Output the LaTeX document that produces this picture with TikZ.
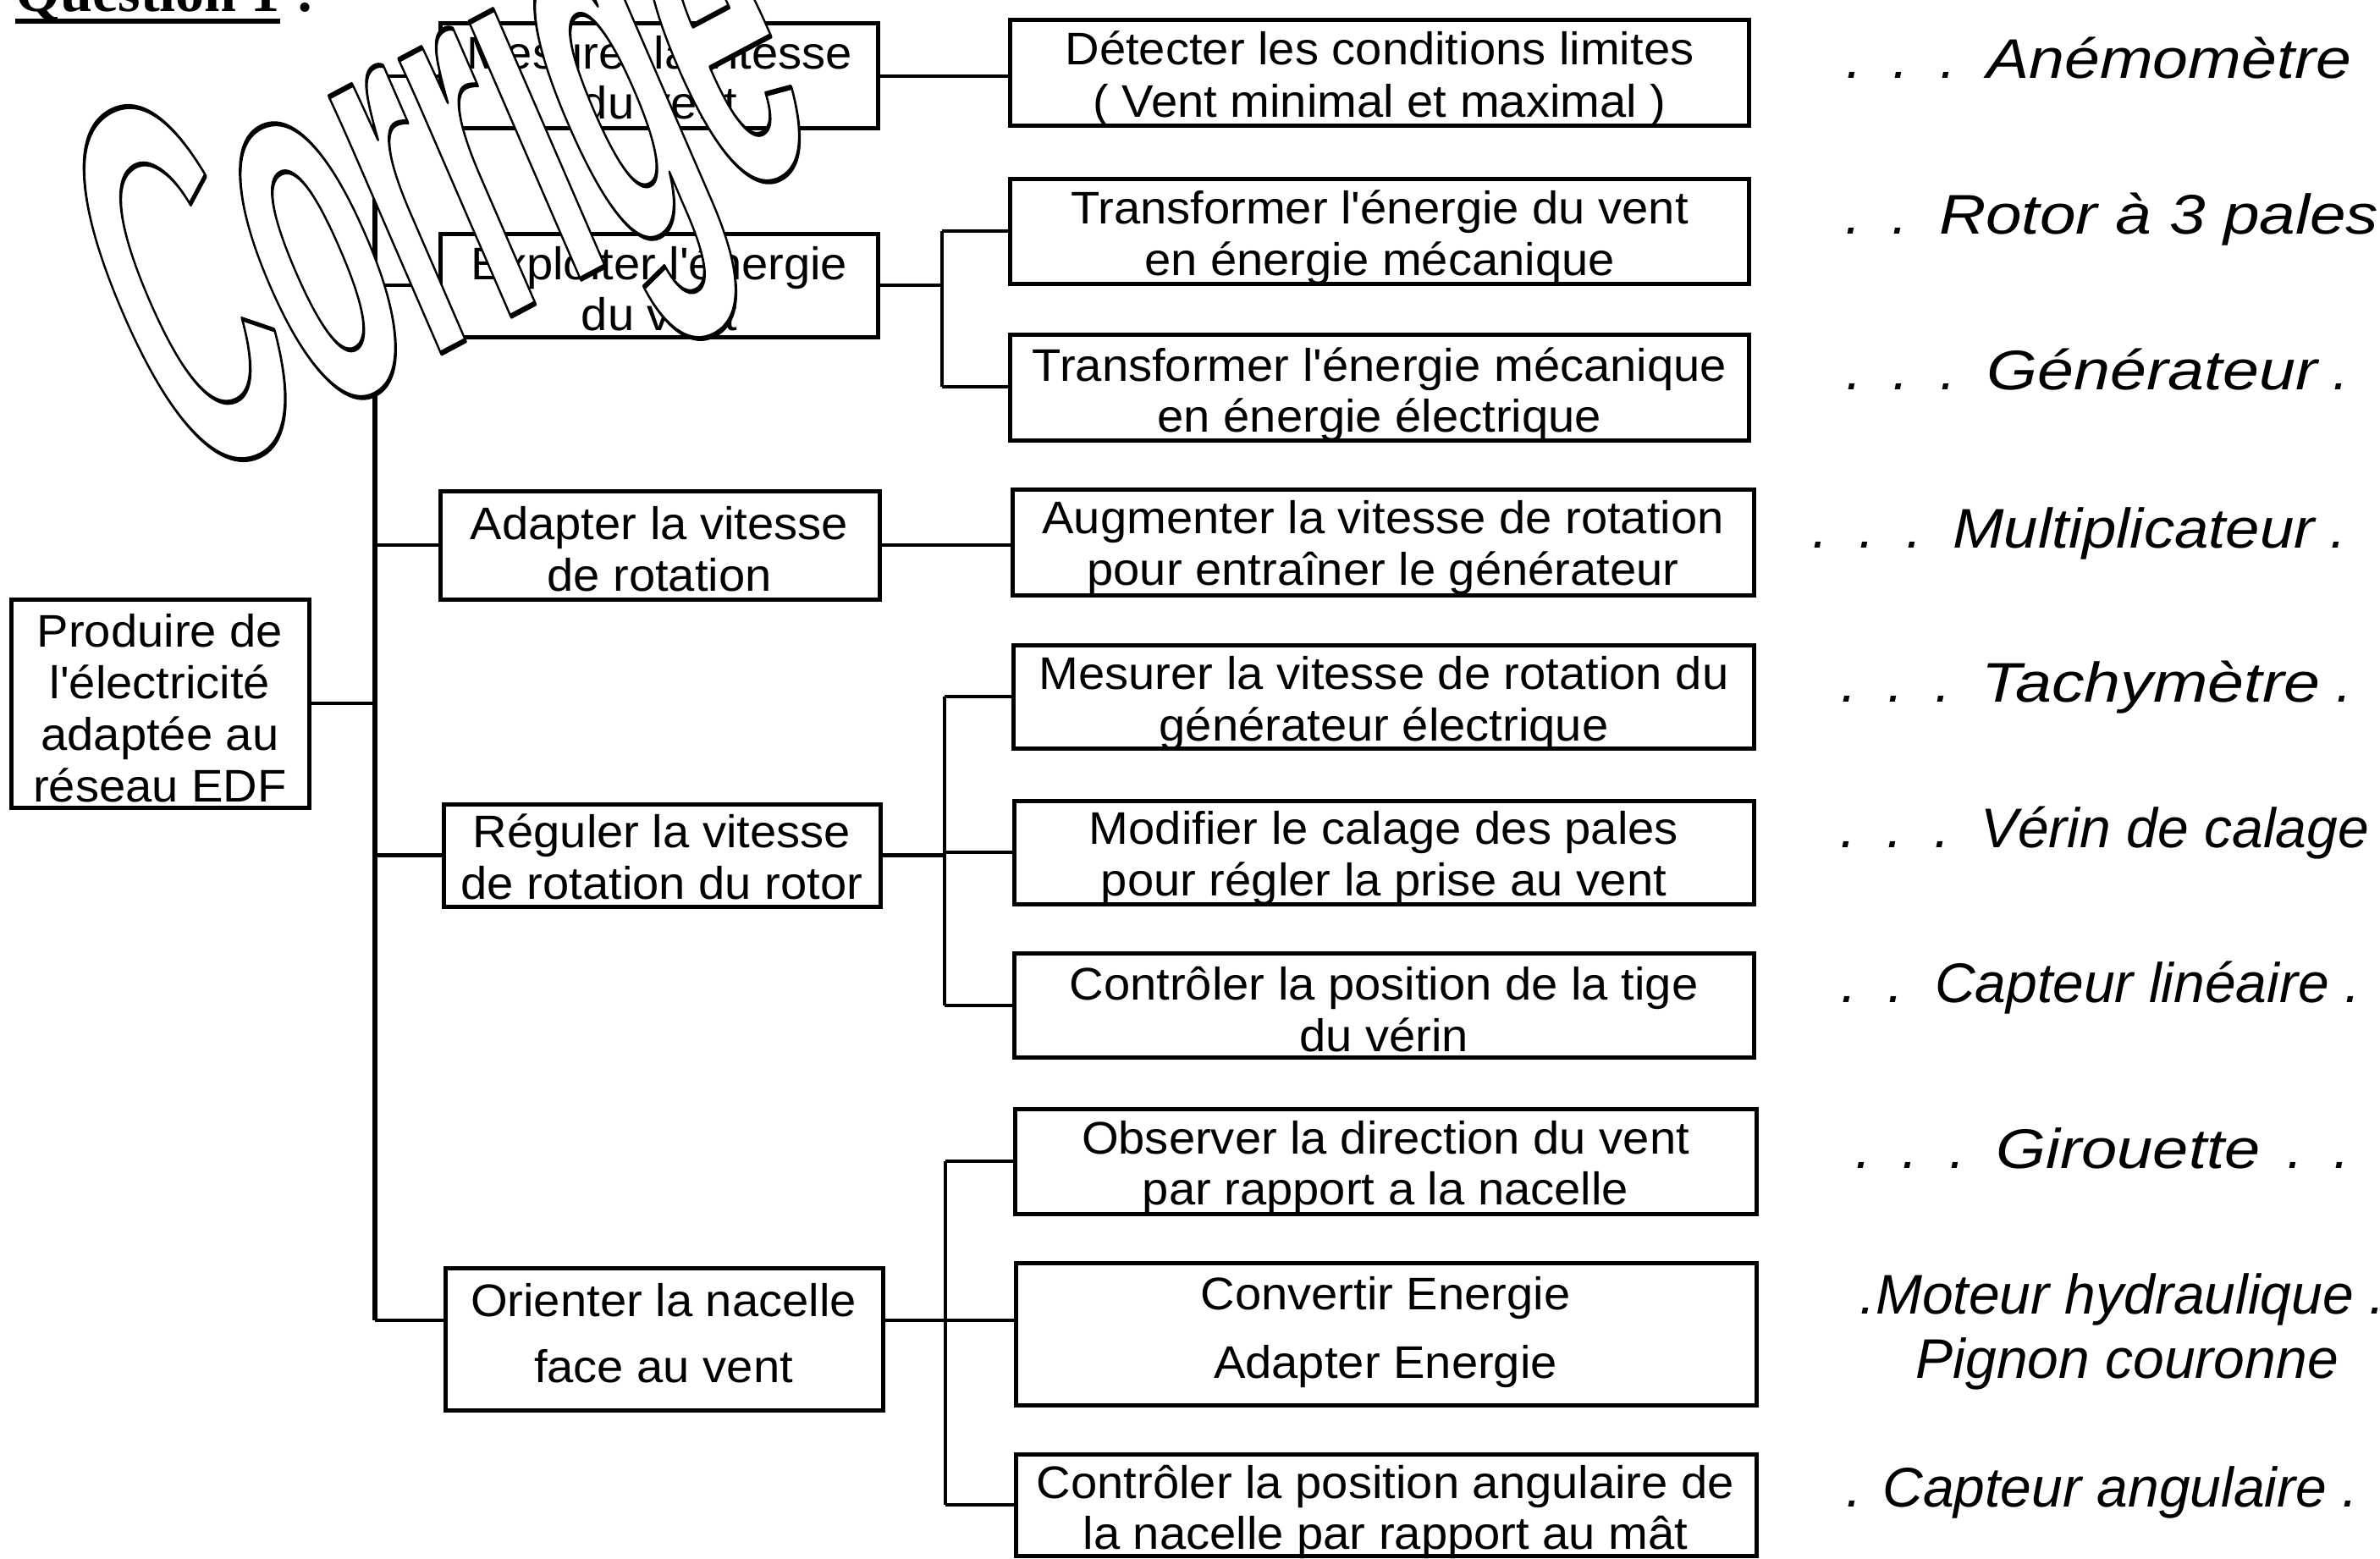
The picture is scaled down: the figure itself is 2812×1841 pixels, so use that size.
\documentclass[tikz,border=0pt]{standalone}
\usepackage{fontspec}
\usepackage{graphicx}
\usetikzlibrary{fit}
\setmainfont{Liberation Sans}
\newfontfamily\boxfont{Liberation Sans}[FakeStretch=1.04]
\newfontfamily\labfont{Liberation Sans}
\newfontfamily\wmfont{Liberation Sans}
\newfontfamily\titlefont{Liberation Serif}
\newcommand\ld{.\hspace{9.2pt}}
\newcommand\outl[1]{\special{pdf:literal direct 0 0 0 RG 1 1 1 rg 0.6 w 1 j 2 Tr}#1\special{pdf:literal direct 0 Tr 0 0 0 rg}}
\begin{document}
\begin{tikzpicture}[x=0.25pt,y=-0.25pt,
  box/.style={draw, line width=1.25pt, inner sep=0pt},
  bt/.style={anchor=base, inner sep=0pt, font=\boxfont\fontsize{13.5pt}{15pt}\selectfont},
  lab/.style={anchor=base west, inner sep=0pt, font=\labfont\itshape\fontsize{16.5pt}{19pt}\selectfont},
  conn/.style={line width=1.2pt},
  trunkline/.style={line width=1.6pt}]
\fill[white] (0,0) rectangle (2812,1841);
\useasboundingbox (0,0) rectangle (2812,1841);

% title
\node[anchor=base west, inner sep=0pt, font=\titlefont\bfseries\fontsize{17pt}{20pt}\selectfont] (qt) at (18,14) {Question 1};
\node[anchor=base west, inner sep=0pt, font=\titlefont\bfseries\fontsize{17pt}{20pt}\selectfont] (qc) at ([xshift=4.25pt]qt.base east) {:};
\draw[line width=1.5pt] ([yshift=-2.75pt]qt.base west) -- ([yshift=-2.75pt]qt.base east);

% root
\node[box, fit={(13,708) (365,954)}] (r) {};
\node[bt] (r1) at (189,764) {Produire de};
\node[bt] (r2) at (189,825) {l'électricité};
\node[bt] (r3) at (189,886) {adaptée au};
\node[bt] (r4) at (189,947) {réseau EDF};

% level 2
\node[box, fit={(520,28) (1037,152)}] (b1) {};
\node[bt] (b1a) at (779,82) {Mesurer la vitesse};
\node[bt] (b1b) at (779,141) {du vent};
\node[box, fit={(520,276) (1037,398)}] (b2) {};
\node[bt] (b2a) at (779,330) {Exploiter l'énergie};
\node[bt] (b2b) at (779,390) {du vent};
\node[box, fit={(520,580) (1039,708)}] (b3) {};
\node[bt] (b3a) at (779,637) {Adapter la vitesse};
\node[bt] (b3b) at (779,698) {de rotation};
\node[box, fit={(524,950) (1040,1071)}] (b4) {};
\node[bt] (b4a) at (782,1001) {Réguler la vitesse};
\node[bt] (b4b) at (782,1062) {de rotation du rotor};
\node[box, fit={(526,1498) (1043,1666)}] (b5) {};
\node[bt] (b5a) at (784,1555) {Orienter la nacelle};
\node[bt] (b5b) at (784,1633) {face au vent};

% level 3
\node[box, fit={(1193,24) (2066,149)}] (c1) {};
\node[bt] (c1a) at (1630,77) {Détecter les conditions limites};
\node[bt] (c1b) at (1630,138) {( Vent minimal et maximal )};
\node[box, fit={(1193,212) (2066,335)}] (c2) {};
\node[bt] (c2a) at (1630,265) {Transformer l'énergie du vent};
\node[bt] (c2b) at (1630,325) {en énergie mécanique};
\node[box, fit={(1193,395) (2066,520)}] (c3) {};
\node[bt] (c3a) at (1630,450) {Transformer l'énergie mécanique};
\node[bt] (c3b) at (1630,510) {en énergie électrique};
\node[box, fit={(1196,578) (2072,703)}] (c4) {};
\node[bt] (c4a) at (1634,630) {Augmenter la vitesse de rotation};
\node[bt] (c4b) at (1634,691) {pour entraîner le générateur};
\node[box, fit={(1197,762) (2072,884)}] (c5) {};
\node[bt] (c5a) at (1635,814) {Mesurer la vitesse de rotation du};
\node[bt] (c5b) at (1635,875) {générateur électrique};
\node[box, fit={(1198,946) (2072,1068)}] (c6) {};
\node[bt] (c6a) at (1635,997) {Modifier le calage des pales};
\node[bt] (c6b) at (1635,1058) {pour régler la prise au vent};
\node[box, fit={(1198,1126) (2072,1249)}] (c7) {};
\node[bt] (c7a) at (1635,1181) {Contrôler la position de la tige};
\node[bt] (c7b) at (1635,1242) {du vérin};
\node[box, fit={(1199,1310) (2075,1434)}] (c8) {};
\node[bt] (c8a) at (1637,1363) {Observer la direction du vent};
\node[bt] (c8b) at (1637,1423) {par rapport a la nacelle};
\node[box, fit={(1200,1492) (2075,1660)}] (c9) {};
\node[bt] (c9a) at (1637,1547) {Convertir Energie};
\node[bt] (c9b) at (1637,1628) {Adapter Energie};
\node[box, fit={(1200,1718) (2075,1838)}] (c10) {};
\node[bt] (c10a) at (1637,1770) {Contrôler la position angulaire de};
\node[bt] (c10b) at (1637,1830) {la nacelle par rapport au mât};

% connectors
\coordinate (tk1) at (443,90);
\coordinate (tk5) at (443,1560);
\coordinate (br2a) at (1113,273);
\coordinate (br2b) at (1113,457);
\coordinate (br3a) at (1116,823);
\coordinate (br3b) at (1116,1188);
\coordinate (br4a) at (1117,1372);
\coordinate (br4b) at (1117,1778);
\coordinate (j9) at (1117,1560);

\draw[trunkline] (tk1) -- (tk5);
\draw[conn] (r.east) -- (r.east -| tk1);
\draw[conn] (tk1) -- (b1.west);
\draw[conn] (b2.west -| tk1) -- (b2.west);
\draw[conn] (b3.west -| tk1) -- (b3.west);
\draw[conn] (b4.west -| tk1) -- (b4.west);
\draw[conn] (tk5) -- (tk5 -| b5.west);

\draw[conn] (b1.east) -- (b1.east -| c1.west);
\draw[conn] (b2.east) -- (b2.east -| br2a);
\draw[conn] (br2a) -- (br2b);
\draw[conn] (br2a) -- (br2a -| c2.west);
\draw[conn] (br2b) -- (br2b -| c3.west);
\draw[conn] (b3.east) -- (b3.east -| c4.west);
\draw[conn] (b4.east) -- (b4.east -| br3a);
\draw[conn] (br3a) -- (br3b);
\draw[conn] (br3a) -- (br3a -| c5.west);
\draw[conn] (c6.west -| br3a) -- (c6.west);
\draw[conn] (br3b) -- (br3b -| c7.west);
\draw[conn] (tk5 -| b5.east) -- (j9);
\draw[conn] (br4a) -- (br4b);
\draw[conn] (br4a) -- (br4a -| c8.west);
\draw[conn] (j9) -- (j9 -| c9.west);
\draw[conn] (br4b) -- (br4b -| c10.west);

% right-hand labels
\node[lab] (l1) at (2181,93) {\ld\ld\ld\scalebox{1.14}[1]{Anémomètre}};
\node[lab] (l2) at (2180,276) {\ld\ld\scalebox{1.16}[1]{Rotor à 3 pales}};
\node[lab] (l3) at (2181,460) {\ld\ld\ld\scalebox{1.17}[1]{Générateur} .};
\node[lab] (l4) at (2141,647) {\ld\ld\ld\scalebox{1.1}[1]{Multiplicateur} .};
\node[lab] (l5) at (2175,829) {\ld\ld\ld\scalebox{1.17}[1]{Tachymètre} .};
\node[lab] (l6) at (2174,1001) {\ld\ld\ld Vérin de calage};
\node[lab] (l7) at (2175,1184) {\ld\ld Capteur linéaire .};
\node[lab] (l8) at (2192,1380) {\ld\ld\ld\scalebox{1.15}[1]{Girouette}\hspace{8pt}.\hspace{9.2pt}.};
\node[lab] (l9) at (2197,1552) {.Moteur hydraulique .};
\node[lab] (l10) at (2263,1628) {Pignon couronne};
\node[lab] (l11) at (2181,1780) {. Capteur angulaire .};

% watermark
\begin{scope}[shift={(223,576)}, rotate=28, xslant=0.08]
\node[transform shape, anchor=base west, inner sep=0pt] (wm) at (0,0) {\scalebox{1}[2.6]{\wmfont\bfseries\fontsize{60pt}{60pt}\selectfont\outl{Corrigé}}};
\end{scope}
\end{tikzpicture}
\end{document}
